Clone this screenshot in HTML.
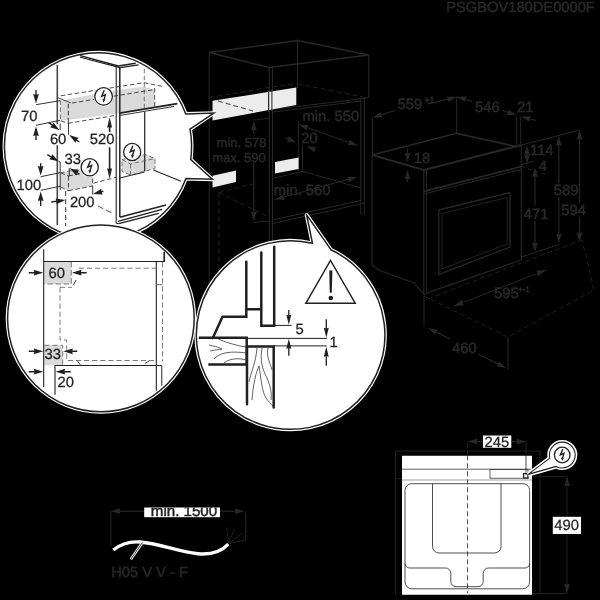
<!DOCTYPE html>
<html><head><meta charset="utf-8"><title>PSGBOV180DE0000F</title>
<style>
html,body{margin:0;padding:0;background:#000;}
svg{display:block;font-family:"Liberation Sans",sans-serif;text-rendering:geometricPrecision;}
svg{filter:grayscale(1);}
</style></head>
<body>
<svg width="600" height="600" viewBox="0 0 600 600">
<rect x="0" y="0" width="600" height="600" fill="#000"/>
<defs>
<clipPath id="k1"><path d="M185.78,113.92 L213.9,113.05 L190.01,129.22 A93.6,93.6 0 0 1 190.68,159.48 L212.3,179.3 L185.91,178.53 A93.6,93.6 0 1 1 185.78,113.92 Z"/></clipPath>
<clipPath id="k2"><path d="M7.6,318.45 A93.3,93.3 0 1 1 194.2,318.45 A93.3,93.3 0 1 1 7.6,318.45 Z"/></clipPath>
<clipPath id="k3"><path d="M312.49,243.28 L306.6,214.9 L330.93,249.76 A94.3,94.3 0 1 1 312.49,243.28 Z"/></clipPath>
</defs>
<g id="bg">
<text x="594.8" y="12.2" font-size="14.7" fill="#2b2728" text-anchor="end" stroke="#2b2728" stroke-width="0.5">PSGBOV180DE0000F</text>
<polygon points="209.2,52.5 297.5,40.5 368.8,55 269.2,67.5" fill="none" stroke="#2a2627" stroke-width="1.5"/>
<line x1="209.2" y1="52.5" x2="209.2" y2="300" stroke="#2a2627" stroke-width="1"/>
<line x1="269.2" y1="67.5" x2="269.2" y2="245" stroke="#2a2627" stroke-width="1.1"/>
<line x1="272.5" y1="67.2" x2="272.5" y2="245" stroke="#2a2627" stroke-width="1"/>
<line x1="297.5" y1="40.5" x2="297.5" y2="88" stroke="#2a2627" stroke-width="1"/>
<line x1="368.8" y1="55" x2="368.8" y2="97.5" stroke="#2a2627" stroke-width="1.1"/>
<line x1="272.5" y1="109.5" x2="361.3" y2="98.8" stroke="#2a2627" stroke-width="1"/>
<line x1="272.5" y1="112" x2="361.3" y2="101" stroke="#2a2627" stroke-width="1"/>
<line x1="368.8" y1="97.5" x2="361" y2="98.8" stroke="#2a2627" stroke-width="1"/>
<line x1="360.8" y1="98.8" x2="360.8" y2="215" stroke="#2a2627" stroke-width="1"/>
<line x1="364.3" y1="98.5" x2="364.3" y2="215" stroke="#2a2627" stroke-width="1"/>
<line x1="209.2" y1="97.5" x2="269" y2="87.5" stroke="#2a2627" stroke-width="0.9" stroke-dasharray="5 3"/>
<line x1="272.5" y1="87" x2="297.5" y2="83.5" stroke="#2a2627" stroke-width="0.9" stroke-dasharray="5 3"/>
<line x1="297.5" y1="83.8" x2="365" y2="97.5" stroke="#2a2627" stroke-width="0.9" stroke-dasharray="5 3"/>
<line x1="253.3" y1="120.2" x2="269.2" y2="118.2" stroke="#2a2627" stroke-width="0.9"/>
<line x1="298.3" y1="121" x2="298.3" y2="171" stroke="#2a2627" stroke-width="1"/>
<line x1="302.5" y1="145" x2="302.5" y2="171.3" stroke="#2a2627" stroke-width="1"/>
<line x1="272.5" y1="178.5" x2="302.5" y2="171.3" stroke="#2a2627" stroke-width="1"/>
<line x1="302.5" y1="171.3" x2="360.8" y2="188" stroke="#2a2627" stroke-width="1"/>
<line x1="272.5" y1="220" x2="360.8" y2="200.5" stroke="#2a2627" stroke-width="1.1"/>
<line x1="272.5" y1="223.5" x2="364.3" y2="203.2" stroke="#2a2627" stroke-width="1"/>
<line x1="253.8" y1="222.5" x2="269.2" y2="221" stroke="#2a2627" stroke-width="1"/>
<line x1="218.8" y1="192.5" x2="253.8" y2="183.8" stroke="#2a2627" stroke-width="0.9" stroke-dasharray="5 3"/>
<line x1="218.8" y1="192.5" x2="267.5" y2="216.3" stroke="#2a2627" stroke-width="0.9" stroke-dasharray="5 3"/>
<line x1="218.8" y1="192.5" x2="218.8" y2="300" stroke="#2a2627" stroke-width="0.9" stroke-dasharray="5 3"/>
<polygon points="212.5,100.8 296.3,87.5 296.3,105 212.5,120.5" fill="#ececec" stroke="none"/>
<polygon points="212.5,175.7 236,170.6 236,182 212.5,187.4" fill="#ececec" stroke="none"/>
<polygon points="275,162 298.6,157.4 298.6,169 275,173.6" fill="#ececec" stroke="none"/>
<line x1="268.6" y1="89" x2="268.6" y2="112" stroke="#2a2627" stroke-width="1.2"/>
<line x1="271.9" y1="89" x2="271.9" y2="112" stroke="#2a2627" stroke-width="1"/>
<line x1="218" y1="101" x2="253" y2="111" stroke="#2a2627" stroke-width="0.9" stroke-dasharray="5 3"/>
<text x="216.6" y="146.5" font-size="13" fill="#2b2728" text-anchor="start" stroke="#2b2728" stroke-width="0.5">min. 578</text>
<text x="212.3" y="161.5" font-size="13" fill="#2b2728" text-anchor="start" stroke="#2b2728" stroke-width="0.5">max. 590</text>
<line x1="253.8" y1="134" x2="253.8" y2="127.65" stroke="#2a2627" stroke-width="1.2"/>
<polygon points="253.8,121 256.7,130.5 253.8,129.84 250.9,130.5" fill="#2a2627" stroke="none"/>
<line x1="253.8" y1="163" x2="253.8" y2="214.65" stroke="#2a2627" stroke-width="1.2"/>
<polygon points="253.8,221.3 250.9,211.8 253.8,212.47 256.7,211.8" fill="#2a2627" stroke="none"/>
<text x="302.5" y="121.3" font-size="14.8" fill="#2b2728" text-anchor="start" stroke="#2b2728" stroke-width="0.5">min. 550</text>
<line x1="298.8" y1="124.5" x2="357.5" y2="145.5" stroke="#2a2627" stroke-width="1"/>
<polygon points="298.8,124.5 308.72,124.97 307.12,127.48 306.77,130.43" fill="#2a2627" stroke="none"/>
<polygon points="357.5,145.5 347.58,145.03 349.18,142.52 349.53,139.57" fill="#2a2627" stroke="none"/>
<text x="301.3" y="142.5" font-size="14.8" fill="#2b2728" text-anchor="start" stroke="#2b2728" stroke-width="0.5">20</text>
<line x1="285" y1="137.5" x2="290.22" y2="139.81" stroke="#2a2627" stroke-width="1.2"/>
<polygon points="296.3,142.5 286.44,141.31 288.22,138.93 288.79,136" fill="#2a2627" stroke="none"/>
<line x1="316.3" y1="150" x2="312.54" y2="148.61" stroke="#2a2627" stroke-width="1.2"/>
<polygon points="306.3,146.3 316.22,146.88 314.59,149.37 314.2,152.32" fill="#2a2627" stroke="none"/>
<text x="273.8" y="195" font-size="14.8" fill="#2b2728" text-anchor="start" stroke="#2b2728" stroke-width="0.5">min. 560</text>
<line x1="275" y1="199.5" x2="350" y2="178.8" stroke="#2a2627" stroke-width="1"/>
<polygon points="275,199.5 283.39,194.18 283.52,197.15 284.93,199.77" fill="#2a2627" stroke="none"/>
<polygon points="357,177 348.61,182.31 348.48,179.34 347.07,176.72" fill="#2a2627" stroke="none"/>
<polyline points="372,155 456.7,133.3 516.7,146.7" fill="none" stroke="#2a2627" stroke-width="1.7"/>
<polyline points="372,155 423.8,170 521.3,145" fill="none" stroke="#2a2627" stroke-width="2"/>
<line x1="372" y1="155" x2="372" y2="265" stroke="#2a2627" stroke-width="1.1"/>
<line x1="423.8" y1="170" x2="423.8" y2="294" stroke="#2a2627" stroke-width="1.2"/>
<line x1="426.5" y1="170" x2="426.5" y2="292" stroke="#2a2627" stroke-width="0.9"/>
<line x1="521.3" y1="145" x2="521.3" y2="260" stroke="#2a2627" stroke-width="1.1"/>
<line x1="423.8" y1="191.3" x2="521.3" y2="166.5" stroke="#2a2627" stroke-width="1.8"/>
<line x1="423.8" y1="194" x2="521.3" y2="169.5" stroke="#2a2627" stroke-width="1"/>
<polygon points="438.8,210 510,192.5 510,247 438.8,274.5" fill="none" stroke="#2a2627" stroke-width="1.3"/>
<polygon points="442,213.5 507,197.5 507,244 442,269" fill="none" stroke="#2a2627" stroke-width="0.9"/>
<polyline points="372,265 378.8,270 414,283 424,294 521.3,260" fill="none" stroke="#2a2627" stroke-width="1.1"/>
<line x1="424" y1="294" x2="424" y2="326" stroke="#2a2627" stroke-width="1"/>
<line x1="508" y1="337" x2="508" y2="370" stroke="#2a2627" stroke-width="1"/>
<polyline points="424,296 508,337 594,290 582,240" fill="none" stroke="#2a2627" stroke-width="0.8" stroke-dasharray="5 3"/>
<polyline points="428,299 521,263 582,240" fill="none" stroke="#2a2627" stroke-width="0.8" stroke-dasharray="5 3"/>
<line x1="372.5" y1="117.5" x2="372.5" y2="155" stroke="#2a2627" stroke-width="1"/>
<line x1="456.7" y1="96.7" x2="456.7" y2="133.3" stroke="#2a2627" stroke-width="1"/>
<line x1="516.7" y1="116.7" x2="516.7" y2="146" stroke="#2a2627" stroke-width="1"/>
<line x1="520.7" y1="116.7" x2="520.7" y2="145" stroke="#2a2627" stroke-width="1"/>
<text x="397.5" y="108.8" font-size="14.8" fill="#2b2728" text-anchor="start" stroke="#2b2728" stroke-width="0.5">559</text>
<text x="424.2" y="103" font-size="9" fill="#2b2728" text-anchor="start" stroke="#2b2728" stroke-width="0.5">+1</text>
<line x1="395" y1="110.5" x2="378.85" y2="115.52" stroke="#2a2627" stroke-width="1.2"/>
<polygon points="372.5,117.5 380.71,111.91 380.94,114.88 382.43,117.45" fill="#2a2627" stroke="none"/>
<line x1="428" y1="104" x2="450.24" y2="98.58" stroke="#2a2627" stroke-width="1.2"/>
<polygon points="456.7,97 448.16,102.07 448.12,99.09 446.78,96.43" fill="#2a2627" stroke="none"/>
<text x="475" y="111.5" font-size="14.8" fill="#2b2728" text-anchor="start" stroke="#2b2728" stroke-width="0.5">546</text>
<line x1="461.5" y1="98" x2="463.37" y2="98.45" stroke="#2a2627" stroke-width="1.2"/>
<polygon points="456.9,96.9 466.81,96.29 465.49,98.95 465.47,101.93" fill="#2a2627" stroke="none"/>
<line x1="502" y1="110.5" x2="510.15" y2="113.03" stroke="#2a2627" stroke-width="1.2"/>
<polygon points="516.5,115 506.57,114.95 508.06,112.38 508.29,109.41" fill="#2a2627" stroke="none"/>
<line x1="456.7" y1="96.7" x2="472" y2="101.5" stroke="#2a2627" stroke-width="1"/>
<text x="517" y="111.5" font-size="14.8" fill="#2b2728" text-anchor="start" stroke="#2b2728" stroke-width="0.5">21</text>
<line x1="536" y1="120.5" x2="527.43" y2="118.21" stroke="#2a2627" stroke-width="1.2"/>
<polygon points="521,116.5 530.93,116.15 529.54,118.78 529.43,121.75" fill="#2a2627" stroke="none"/>
<text x="413.8" y="162.5" font-size="14.8" fill="#2b2728" text-anchor="start" stroke="#2b2728" stroke-width="0.5">18</text>
<line x1="407.5" y1="148.8" x2="407.5" y2="155.85" stroke="#2a2627" stroke-width="1.2"/>
<polygon points="407.5,162.5 404.6,153 407.5,153.66 410.4,153" fill="#2a2627" stroke="none"/>
<line x1="407.5" y1="182" x2="407.5" y2="176.65" stroke="#2a2627" stroke-width="1.2"/>
<polygon points="407.5,170 410.4,179.5 407.5,178.84 404.6,179.5" fill="#2a2627" stroke="none"/>
<text x="530" y="155" font-size="14.8" fill="#2b2728" text-anchor="start" stroke="#2b2728" stroke-width="0.5">114</text>
<line x1="527" y1="148" x2="527" y2="160" stroke="#2a2627" stroke-width="1"/>
<polygon points="527,145.2 529.9,154.7 527,154.03 524.1,154.7" fill="#2a2627" stroke="none"/>
<polygon points="527,163.8 524.1,154.3 527,154.97 529.9,154.3" fill="#2a2627" stroke="none"/>
<text x="538.8" y="171.3" font-size="14.8" fill="#2b2728" text-anchor="start" stroke="#2b2728" stroke-width="0.5">4</text>
<text x="553.8" y="195" font-size="14.8" fill="#2b2728" text-anchor="start" stroke="#2b2728" stroke-width="0.5">589</text>
<text x="561.3" y="215" font-size="14.8" fill="#2b2728" text-anchor="start" stroke="#2b2728" stroke-width="0.5">594</text>
<text x="523.8" y="218.8" font-size="14.8" fill="#2b2728" text-anchor="start" stroke="#2b2728" stroke-width="0.5">471</text>
<line x1="535" y1="205" x2="535" y2="174.15" stroke="#2a2627" stroke-width="1.2"/>
<polygon points="535,167.5 537.9,177 535,176.34 532.1,177" fill="#2a2627" stroke="none"/>
<line x1="535" y1="221" x2="535" y2="245.35" stroke="#2a2627" stroke-width="1.2"/>
<polygon points="535,252 532.1,242.5 535,243.16 537.9,242.5" fill="#2a2627" stroke="none"/>
<line x1="558.8" y1="183" x2="558.8" y2="142.95" stroke="#2a2627" stroke-width="1.2"/>
<polygon points="558.8,136.3 561.7,145.8 558.8,145.14 555.9,145.8" fill="#2a2627" stroke="none"/>
<line x1="558.8" y1="197" x2="558.8" y2="236.35" stroke="#2a2627" stroke-width="1.2"/>
<polygon points="558.8,243 555.9,233.5 558.8,234.16 561.7,233.5" fill="#2a2627" stroke="none"/>
<line x1="579.5" y1="203" x2="579.5" y2="136.65" stroke="#2a2627" stroke-width="1.2"/>
<polygon points="579.5,130 582.4,139.5 579.5,138.84 576.6,139.5" fill="#2a2627" stroke="none"/>
<line x1="579.5" y1="217" x2="579.5" y2="235.35" stroke="#2a2627" stroke-width="1.2"/>
<polygon points="579.5,242 576.6,232.5 579.5,233.16 582.4,232.5" fill="#2a2627" stroke="none"/>
<line x1="521.3" y1="145" x2="580" y2="130" stroke="#2a2627" stroke-width="1"/>
<line x1="521.3" y1="164.5" x2="534" y2="161.3" stroke="#2a2627" stroke-width="1"/>
<line x1="521.3" y1="166.5" x2="545" y2="174.5" stroke="#2a2627" stroke-width="0.9" stroke-dasharray="4 3"/>
<line x1="521.3" y1="257" x2="559" y2="244.5" stroke="#2a2627" stroke-width="1"/>
<text x="494" y="298" font-size="14.8" fill="#2b2728" text-anchor="start" stroke="#2b2728" stroke-width="0.5">595</text>
<text x="518" y="291.5" font-size="8" fill="#2b2728" text-anchor="start" stroke="#2b2728" stroke-width="0.5">+-1</text>
<line x1="454" y1="306" x2="546" y2="270" stroke="#2a2627" stroke-width="1"/>
<polygon points="454,306 461.79,299.84 462.23,302.78 463.9,305.24" fill="#2a2627" stroke="none"/>
<polygon points="546,270 538.21,276.16 537.77,273.22 536.1,270.76" fill="#2a2627" stroke="none"/>
<text x="452" y="353" font-size="14.8" fill="#2b2728" text-anchor="start" stroke="#2b2728" stroke-width="0.5">460</text>
<line x1="450" y1="339" x2="433.95" y2="330.97" stroke="#2a2627" stroke-width="1.2"/>
<polygon points="428,328 437.79,329.65 435.9,331.95 435.2,334.84" fill="#2a2627" stroke="none"/>
<line x1="478" y1="354" x2="500.05" y2="365.03" stroke="#2a2627" stroke-width="1.2"/>
<polygon points="506,368 496.21,366.35 498.1,364.05 498.8,361.16" fill="#2a2627" stroke="none"/>
<line x1="110.8" y1="511" x2="110.8" y2="546" stroke="#2a2627" stroke-width="1"/>
<line x1="144" y1="511.2" x2="117.45" y2="511.2" stroke="#2a2627" stroke-width="1.2"/>
<polygon points="110.8,511.2 120.3,508.3 119.63,511.2 120.3,514.1" fill="#2a2627" stroke="none"/>
<rect x="144.2" y="507.5" width="75.8" height="9.7" rx="0" fill="#fff" stroke="none"/>
<clipPath id="kl"><rect x="144.2" y="507.5" width="75.8" height="9.7"/></clipPath>
<text x="184" y="515.9" font-size="15.1" fill="#231f21" text-anchor="middle" clip-path="url(#kl)" stroke="#231f21" stroke-width="0.5">min. 1500</text>
<line x1="220" y1="511.2" x2="237.75" y2="511.2" stroke="#2a2627" stroke-width="1.2"/>
<polygon points="244.4,511.2 234.9,514.1 235.56,511.2 234.9,508.3" fill="#2a2627" stroke="none"/>
<line x1="245.8" y1="511" x2="245.8" y2="540" stroke="#2a2627" stroke-width="1"/>
<line x1="228.5" y1="543.5" x2="226.7" y2="527.5" stroke="#2a2627" stroke-width="0.8"/>
<line x1="228.5" y1="543.5" x2="234.2" y2="529.2" stroke="#2a2627" stroke-width="0.8"/>
<line x1="228.5" y1="543.5" x2="241.7" y2="533.7" stroke="#2a2627" stroke-width="0.8"/>
<line x1="228.5" y1="543.5" x2="245.8" y2="540" stroke="#2a2627" stroke-width="0.8"/>
<path d="M113.3,550 C122,543 131,541.3 140,542 C160,543.5 176,551.5 198,553.8 C212,555 222,551 228.3,544.2" fill="none" stroke="#fff" stroke-width="3.4" />
<line x1="142.5" y1="542.5" x2="130.8" y2="559.2" stroke="#fff" stroke-width="2.6"/>
<line x1="142.5" y1="542.5" x2="130.8" y2="559.2" stroke="#231f21" stroke-width="0.9"/>
<text x="111.2" y="576.7" font-size="14.7" fill="#2b2728" text-anchor="start" stroke="#2b2728" stroke-width="0.5">H05 V V - F</text>
</g>
<g id="c1">
<path d="M185.78,113.92 L213.9,113.05 L190.01,129.22 A93.6,93.6 0 0 1 190.68,159.48 L212.3,179.3 L185.91,178.53 A93.6,93.6 0 1 1 185.78,113.92 Z" fill="#fff" stroke="#fff" stroke-width="3.8" stroke-linejoin="round"/>
<g clip-path="url(#k1)">
<polygon points="60.8,100.4 116.5,90 144,86.5 154.5,90 154.5,107 120,113.2 116,114 60.7,120.7" fill="#dadada" stroke="none"/>
<polygon points="60.2,172.9 84.2,168 92.7,171.5 92.7,186 68.5,190.7 60.2,187" fill="#dadada" stroke="none"/>
<polygon points="122,159.5 145,154.5 155,158.5 155,168.5 130.5,175 122,171.5" fill="#dadada" stroke="none"/>
<line x1="80.3" y1="55.6" x2="118.2" y2="66" stroke="#231f20" stroke-width="1.3" stroke-linecap="round"/>
<line x1="80.4" y1="57.3" x2="119.9" y2="67.6" stroke="#231f20" stroke-width="1.1" stroke-linecap="round"/>
<line x1="118.2" y1="66" x2="135.7" y2="63.3" stroke="#231f20" stroke-width="1.5"/>
<line x1="119.9" y1="67.6" x2="138.6" y2="64.9" stroke="#231f20" stroke-width="1.3"/>
<line x1="116.3" y1="67" x2="116.3" y2="223.3" stroke="#5a5858" stroke-width="1.5"/>
<line x1="119.8" y1="67.6" x2="119.8" y2="217" stroke="#231f20" stroke-width="1.5"/>
<line x1="57.3" y1="64.7" x2="57.3" y2="124" stroke="#4c4a4a" stroke-width="1.6"/>
<line x1="57.3" y1="145.3" x2="57.3" y2="225.3" stroke="#4c4a4a" stroke-width="1.6"/>
<line x1="119.7" y1="113.2" x2="177.3" y2="103.7" stroke="#231f20" stroke-width="1.8"/>
<line x1="119.7" y1="115.5" x2="174" y2="106.4" stroke="#231f20" stroke-width="0.9"/>
<line x1="119.7" y1="178" x2="144.7" y2="172" stroke="#231f20" stroke-width="1"/>
<line x1="153.3" y1="170" x2="181" y2="181.2" stroke="#231f20" stroke-width="1.1"/>
<line x1="144.7" y1="112" x2="144.7" y2="171.3" stroke="#231f20" stroke-width="1.2"/>
<line x1="119.7" y1="217.3" x2="166" y2="205" stroke="#231f20" stroke-width="1.5"/>
<line x1="118" y1="221.3" x2="162" y2="209.3" stroke="#231f20" stroke-width="1.3"/>
<line x1="116" y1="223.2" x2="118.7" y2="223.6" stroke="#231f20" stroke-width="1"/>
<line x1="118.7" y1="223.6" x2="158.7" y2="213.3" stroke="#231f20" stroke-width="1.3"/>
<line x1="60.8" y1="95.8" x2="144" y2="82.7" stroke="#231f20" stroke-width="0.8" stroke-dasharray="4.5 2.5"/>
<line x1="144" y1="82.7" x2="164" y2="86.7" stroke="#231f20" stroke-width="0.8" stroke-dasharray="4.5 2.5"/>
<line x1="144.3" y1="68.7" x2="144.3" y2="110" stroke="#5a5758" stroke-width="0.8" stroke-dasharray="4.5 2.5"/>
<line x1="60.4" y1="100.4" x2="60.4" y2="121" stroke="#5a5758" stroke-width="0.9" stroke-dasharray="4.5 2.5"/>
<line x1="60.2" y1="123.5" x2="60.2" y2="130" stroke="#231f20" stroke-width="0.9"/>
<line x1="68.3" y1="103.8" x2="68.3" y2="122.5" stroke="#231f20" stroke-width="0.9" stroke-dasharray="4.5 2.5"/>
<line x1="68.5" y1="122.5" x2="68.5" y2="134.7" stroke="#231f20" stroke-width="0.9"/>
<line x1="57.3" y1="97.5" x2="70.8" y2="102.9" stroke="#231f20" stroke-width="0.8"/>
<line x1="72" y1="103" x2="154.7" y2="89.5" stroke="#231f20" stroke-width="0.8" stroke-dasharray="4.5 2.5"/>
<line x1="154.7" y1="88" x2="154.7" y2="107" stroke="#231f20" stroke-width="0.8" stroke-dasharray="4.5 2.5"/>
<line x1="68.2" y1="123.3" x2="116" y2="115.3" stroke="#231f20" stroke-width="0.8" stroke-dasharray="4.5 2.5"/>
<line x1="60.7" y1="120.8" x2="68.2" y2="123.3" stroke="#231f20" stroke-width="0.8" stroke-dasharray="4.5 2.5"/>
<line x1="60.7" y1="172.7" x2="68.5" y2="176" stroke="#231f20" stroke-width="0.8" stroke-dasharray="4.5 2.5"/>
<line x1="68.5" y1="176" x2="92.7" y2="171.5" stroke="#231f20" stroke-width="0.8" stroke-dasharray="4.5 2.5"/>
<line x1="68.5" y1="176" x2="68.5" y2="190.7" stroke="#231f20" stroke-width="0.8" stroke-dasharray="4.5 2.5"/>
<line x1="60.7" y1="187" x2="68.5" y2="190.7" stroke="#231f20" stroke-width="0.8" stroke-dasharray="4.5 2.5"/>
<line x1="68.5" y1="190.7" x2="92.7" y2="186" stroke="#231f20" stroke-width="0.8" stroke-dasharray="4.5 2.5"/>
<line x1="92.7" y1="171.5" x2="92.7" y2="186" stroke="#231f20" stroke-width="0.8" stroke-dasharray="4.5 2.5"/>
<polyline points="60.2,172.9 84.2,168 92.7,171.5" fill="none" stroke="#5a5758" stroke-width="0.8" stroke-dasharray="4.5 2.5"/>
<line x1="93.5" y1="183.2" x2="116" y2="177.3" stroke="#231f20" stroke-width="0.8" stroke-dasharray="4.5 2.5"/>
<line x1="65.7" y1="191" x2="65.7" y2="226" stroke="#231f20" stroke-width="0.9" stroke-dasharray="5 3"/>
<line x1="98" y1="206" x2="112" y2="213" stroke="#231f20" stroke-width="0.8" stroke-dasharray="6 3"/>
<polygon points="122,159.5 145,154.5 155,158.5 155,168.5 130.5,175 122,171.5" fill="none" stroke="#5a5758" stroke-width="0.8" stroke-dasharray="4.5 2.5"/>
<polyline points="122,159.5 130.5,164 155,158.5" fill="none" stroke="#5a5758" stroke-width="0.8" stroke-dasharray="4.5 2.5"/>
<line x1="130.5" y1="164" x2="130.5" y2="175" stroke="#5a5758" stroke-width="0.8" stroke-dasharray="4.5 2.5"/>
<line x1="36" y1="104.7" x2="60" y2="100.7" stroke="#231f20" stroke-width="0.9"/>
<line x1="36" y1="125.3" x2="60" y2="120.3" stroke="#231f20" stroke-width="0.9"/>
<line x1="36" y1="90" x2="36" y2="96.85" stroke="#231f20" stroke-width="1.4"/>
<polygon points="36,103.5 33.1,94 36,94.66 38.9,94" fill="#231f20" stroke="none"/>
<line x1="36" y1="140" x2="36" y2="133.15" stroke="#231f20" stroke-width="1.4"/>
<polygon points="36,126.5 38.9,136 36,135.34 33.1,136" fill="#231f20" stroke="none"/>
<text x="21" y="120.9" font-size="14.8" fill="#231f20" text-anchor="start" stroke="#231f20" stroke-width="0.25">70</text>
<line x1="48.7" y1="122.7" x2="54.12" y2="126.43" stroke="#231f20" stroke-width="1.4"/>
<polygon points="59.6,130.2 50.13,127.2 52.32,125.19 53.42,122.43" fill="#231f20" stroke="none"/>
<line x1="79.3" y1="142" x2="74.75" y2="138.81" stroke="#231f20" stroke-width="1.4"/>
<polygon points="69.3,135 78.75,138.07 76.54,140.07 75.42,142.82" fill="#231f20" stroke="none"/>
<text x="49.9" y="143.5" font-size="14.8" fill="#231f20" text-anchor="start" stroke="#231f20" stroke-width="0.25">60</text>
<text x="89.8" y="144.1" font-size="14.8" fill="#231f20" text-anchor="start" stroke="#231f20" stroke-width="0.25">520</text>
<line x1="109.6" y1="132" x2="109.6" y2="124.65" stroke="#231f20" stroke-width="1.6"/>
<polygon points="109.6,117.3 112.1,127.8 109.6,127.06 107.1,127.8" fill="#231f20" stroke="none"/>
<line x1="109.6" y1="147.3" x2="109.6" y2="171.35" stroke="#231f20" stroke-width="1.6"/>
<polygon points="109.6,178.7 107.1,168.2 109.6,168.94 112.1,168.2" fill="#231f20" stroke="none"/>
<text x="64.5" y="164" font-size="14.8" fill="#231f20" text-anchor="start" stroke="#231f20" stroke-width="0.25">33</text>
<line x1="47.3" y1="154.7" x2="53.16" y2="158.14" stroke="#231f20" stroke-width="1.4"/>
<polygon points="58.9,161.5 49.24,159.2 51.28,157.03 52.17,154.19" fill="#231f20" stroke="none"/>
<line x1="58.7" y1="161.3" x2="60.2" y2="162.2" stroke="#231f20" stroke-width="0.9"/>
<line x1="60.2" y1="162" x2="60.2" y2="190" stroke="#231f20" stroke-width="0.9"/>
<line x1="79.3" y1="174" x2="75.22" y2="171.59" stroke="#231f20" stroke-width="1.4"/>
<polygon points="69.5,168.2 79.15,170.54 77.1,172.7 76.2,175.53" fill="#231f20" stroke="none"/>
<line x1="69.3" y1="168" x2="69.3" y2="176" stroke="#231f20" stroke-width="0.9"/>
<text x="16.6" y="190" font-size="14.8" fill="#231f20" text-anchor="start" stroke="#231f20" stroke-width="0.25">100</text>
<line x1="40.7" y1="176.7" x2="60" y2="172.7" stroke="#231f20" stroke-width="0.9"/>
<line x1="40.7" y1="190.3" x2="60" y2="186.3" stroke="#231f20" stroke-width="0.9"/>
<line x1="40.7" y1="163.3" x2="40.7" y2="168.95" stroke="#231f20" stroke-width="1.4"/>
<polygon points="40.7,175.6 37.8,166.1 40.7,166.76 43.6,166.1" fill="#231f20" stroke="none"/>
<line x1="40.7" y1="206" x2="40.7" y2="198.05" stroke="#231f20" stroke-width="1.4"/>
<polygon points="40.7,191.4 43.6,200.9 40.7,200.24 37.8,200.9" fill="#231f20" stroke="none"/>
<text x="69.9" y="207.3" font-size="14.8" fill="#231f20" text-anchor="start" stroke="#231f20" stroke-width="0.25">200</text>
<line x1="51.3" y1="202" x2="58.82" y2="200.93" stroke="#231f20" stroke-width="1.4"/>
<polygon points="65.4,200 56.4,204.21 56.65,201.24 55.59,198.46" fill="#231f20" stroke="none"/>
<line x1="103.3" y1="191.3" x2="99.34" y2="192.33" stroke="#231f20" stroke-width="1.4"/>
<polygon points="92.9,194 101.37,188.81 101.45,191.78 102.82,194.42" fill="#231f20" stroke="none"/>
<line x1="92.7" y1="186" x2="92.7" y2="194.5" stroke="#231f20" stroke-width="0.9"/>
<circle cx="103.6" cy="96.4" r="10" fill="#fff" stroke="none"/>
<circle cx="103.6" cy="96.4" r="8.8" fill="#fff" stroke="#231f20" stroke-width="1.3"/>
<polyline points="104.3,90.2 101.6,96.3 105.5,94.6 103.8,100.4" fill="none" stroke="#231f20" stroke-width="1.4" stroke-linejoin="miter"/>
<polygon points="103.5,102.8 102.3,99 105.2,99.8" fill="#231f20" stroke="none"/>
<circle cx="89.7" cy="167.3" r="9.8" fill="#fff" stroke="none"/>
<circle cx="89.7" cy="167.3" r="8.6" fill="#fff" stroke="#231f20" stroke-width="1.3"/>
<polyline points="90.4,161.1 87.7,167.2 91.6,165.5 89.9,171.3" fill="none" stroke="#231f20" stroke-width="1.4" stroke-linejoin="miter"/>
<polygon points="89.6,173.7 88.4,169.9 91.3,170.7" fill="#231f20" stroke="none"/>
<circle cx="132.2" cy="152" r="9.8" fill="#fff" stroke="none"/>
<circle cx="132.2" cy="152" r="8.6" fill="#fff" stroke="#231f20" stroke-width="1.3"/>
<polyline points="132.9,145.8 130.2,151.9 134.1,150.2 132.4,156" fill="none" stroke="#231f20" stroke-width="1.4" stroke-linejoin="miter"/>
<polygon points="132.1,158.4 130.9,154.6 133.8,155.4" fill="#231f20" stroke="none"/>
</g>
<path d="M185.78,113.92 L213.9,113.05 L190.01,129.22 A93.6,93.6 0 0 1 190.68,159.48 L212.3,179.3 L185.91,178.53 A93.6,93.6 0 1 1 185.78,113.92 Z" fill="none" stroke="#231f20" stroke-width="1.5" stroke-linejoin="miter" stroke-miterlimit="12"/>
</g>
<g id="c2">
<path d="M7.6,318.45 A93.3,93.3 0 1 1 194.2,318.45 A93.3,93.3 0 1 1 7.6,318.45 Z" fill="#fff" stroke="#fff" stroke-width="3.8" />
</g>
<g id="c3">
<path d="M312.49,243.28 L306.6,214.9 L330.93,249.76 A94.3,94.3 0 1 1 312.49,243.28 Z" fill="#fff" stroke="#fff" stroke-width="3.8" stroke-linejoin="round"/>
</g>
<g clip-path="url(#k2)">
<rect x="44.3" y="261.8" width="27" height="22.2" rx="0" fill="#dadada" stroke="none"/>
<rect x="44.3" y="345.3" width="18.4" height="20" rx="0" fill="#dadada" stroke="none"/>
<line x1="43.7" y1="249.3" x2="43.7" y2="387.3" stroke="#231f20" stroke-width="1.1"/>
<polyline points="43.7,261.5 164.2,261.5" fill="none" stroke="#231f20" stroke-width="1.1"/>
<line x1="164.2" y1="251.7" x2="164.2" y2="262" stroke="#231f20" stroke-width="1.6"/>
<line x1="156.3" y1="261.5" x2="156.3" y2="390.8" stroke="#231f20" stroke-width="1.1"/>
<polyline points="55,394.7 55,365.5 161.7,365.5" fill="none" stroke="#231f20" stroke-width="1.1"/>
<line x1="161.7" y1="365.5" x2="161.7" y2="385.8" stroke="#5a5758" stroke-width="1.3"/>
<line x1="156.3" y1="284.7" x2="162.5" y2="284.7" stroke="#5a5758" stroke-width="0.9"/>
<polyline points="71.3,262 71.3,284 44.3,284" fill="none" stroke="#5c5a5a" stroke-width="0.8" stroke-dasharray="5.3 2.8"/>
<line x1="78.7" y1="268.2" x2="156" y2="268.2" stroke="#5c5a5a" stroke-width="0.8" stroke-dasharray="5.3 2.8"/>
<line x1="76" y1="280" x2="73.3" y2="285.3" stroke="#231f20" stroke-width="0.9"/>
<line x1="60" y1="287.3" x2="72" y2="287.3" stroke="#5c5a5a" stroke-width="0.8" stroke-dasharray="5.3 2.8"/>
<polyline points="60,287.3 60,340 66.7,340 66.7,360.5 156,360.5" fill="none" stroke="#5c5a5a" stroke-width="0.8" stroke-dasharray="5.3 2.8"/>
<line x1="162.5" y1="262" x2="162.5" y2="361.5" stroke="#5c5a5a" stroke-width="0.8" stroke-dasharray="5.3 2.8"/>
<polyline points="44.3,345.3 62.7,345.3 62.7,365.3" fill="none" stroke="#5c5a5a" stroke-width="0.8" stroke-dasharray="5.3 2.8"/>
<line x1="77.3" y1="360.7" x2="80.7" y2="365.3" stroke="#231f20" stroke-width="0.8"/>
<line x1="149" y1="361" x2="145" y2="363.5" stroke="#231f20" stroke-width="0.8"/>
<line x1="28.7" y1="272.7" x2="36.65" y2="272.7" stroke="#231f20" stroke-width="1.4"/>
<polygon points="43.3,272.7 33.8,275.6 34.46,272.7 33.8,269.8" fill="#231f20" stroke="none"/>
<line x1="86.7" y1="272.7" x2="78.65" y2="272.7" stroke="#231f20" stroke-width="1.4"/>
<polygon points="72,272.7 81.5,269.8 80.84,272.7 81.5,275.6" fill="#231f20" stroke="none"/>
<text x="48.5" y="277.8" font-size="14.8" fill="#231f20" text-anchor="start" stroke="#231f20" stroke-width="0.25">60</text>
<line x1="28.7" y1="351.3" x2="36.65" y2="351.3" stroke="#231f20" stroke-width="1.4"/>
<polygon points="43.3,351.3 33.8,354.2 34.46,351.3 33.8,348.4" fill="#231f20" stroke="none"/>
<line x1="77.3" y1="351.3" x2="69.95" y2="351.3" stroke="#231f20" stroke-width="1.4"/>
<polygon points="63.3,351.3 72.8,348.4 72.13,351.3 72.8,354.2" fill="#231f20" stroke="none"/>
<text x="44.6" y="358.8" font-size="14.8" fill="#231f20" text-anchor="start" stroke="#231f20" stroke-width="0.25">33</text>
<line x1="28.7" y1="371.7" x2="36.65" y2="371.7" stroke="#231f20" stroke-width="1.4"/>
<polygon points="43.3,371.7 33.8,374.6 34.46,371.7 33.8,368.8" fill="#231f20" stroke="none"/>
<line x1="70.7" y1="371.7" x2="62.25" y2="371.7" stroke="#231f20" stroke-width="1.4"/>
<polygon points="55.6,371.7 65.1,368.8 64.44,371.7 65.1,374.6" fill="#231f20" stroke="none"/>
<text x="57.6" y="386.8" font-size="14.8" fill="#231f20" text-anchor="start" stroke="#231f20" stroke-width="0.25">20</text>
</g>
<g clip-path="url(#k3)">
<polyline points="246.3,261.7 246.3,316.7 222.5,316.7 212.8,338" fill="none" stroke="#231f20" stroke-width="2.5" stroke-linejoin="miter" stroke-linecap="round"/>
<line x1="246.3" y1="309.2" x2="261.3" y2="309.2" stroke="#231f20" stroke-width="2.5"/>
<polyline points="261.3,252.5 261.3,325.8 274.2,325.8 274.2,246.7" fill="none" stroke="#231f20" stroke-width="2.5" stroke-linejoin="miter" stroke-linecap="round"/>
<polyline points="198.8,337.8 246.7,337.8 246.7,364.5 208.3,364.5" fill="none" stroke="#231f20" stroke-width="2.5" stroke-linejoin="miter"/>
<polyline points="247,404.2 247,346.4 273.7,346.4 273.7,407.5" fill="none" stroke="#231f20" stroke-width="2.5" stroke-linejoin="miter" stroke-linecap="round"/>
<line x1="274.2" y1="325.4" x2="291.7" y2="325.4" stroke="#231f20" stroke-width="1"/>
<line x1="246.7" y1="338.4" x2="326.8" y2="338.4" stroke="#231f20" stroke-width="1"/>
<line x1="273.7" y1="345.9" x2="326.8" y2="345.9" stroke="#231f20" stroke-width="1"/>
<line x1="288.8" y1="310" x2="288.8" y2="317.8" stroke="#231f20" stroke-width="1.3"/>
<polygon points="288.8,324.8 286.3,314.8 288.8,315.5 291.3,314.8" fill="#231f20" stroke="none"/>
<line x1="288.8" y1="355.8" x2="288.8" y2="345.7" stroke="#231f20" stroke-width="1.3"/>
<polygon points="288.8,338.7 291.3,348.7 288.8,348 286.3,348.7" fill="#231f20" stroke="none"/>
<line x1="326.3" y1="319.2" x2="326.3" y2="330.7" stroke="#231f20" stroke-width="1.3"/>
<polygon points="326.3,337.7 323.8,327.7 326.3,328.4 328.8,327.7" fill="#231f20" stroke="none"/>
<line x1="326.3" y1="365.8" x2="326.3" y2="353.7" stroke="#231f20" stroke-width="1.3"/>
<polygon points="326.3,346.7 328.8,356.7 326.3,356 323.8,356.7" fill="#231f20" stroke="none"/>
<text x="295.5" y="334.3" font-size="14.8" fill="#231f20" text-anchor="start" stroke="#231f20" stroke-width="0.25">5</text>
<text x="329.6" y="347.2" font-size="14.8" fill="#231f20" text-anchor="start" stroke="#231f20" stroke-width="0.25">1</text>
<polygon points="330.5,260.3 305.8,303.3 355.3,303.3" fill="none" stroke="#231f20" stroke-width="1.4" stroke-linejoin="miter"/>
<polygon points="329.2,270.6 332.4,270.6 331.8,292.7 329.8,292.7" fill="#231f20" stroke="none"/>
<circle cx="330.8" cy="298" r="2.3" fill="#231f20" stroke="none"/>
<path d="M218,339 C228,343 238,346 246,347" fill="none" stroke="#231f20" stroke-width="0.7" />
<path d="M209,345 C214,346 218,347 222,349 C216,350 212,350.5 210,351" fill="none" stroke="#231f20" stroke-width="0.7" />
<path d="M214,359 C220,352 232,351 246,353" fill="none" stroke="#231f20" stroke-width="0.7" />
<path d="M224,363 C230,358 240,358 246,360" fill="none" stroke="#231f20" stroke-width="0.7" />
<path d="M257,348 C256,362 251,372 249,382" fill="none" stroke="#231f20" stroke-width="0.7" />
<path d="M262,348 C260,360 262,368 266,376 C270,384 272,392 271,400" fill="none" stroke="#231f20" stroke-width="0.7" />
<path d="M268,348 C266,356 270,362 272,370" fill="none" stroke="#231f20" stroke-width="0.7" />
<path d="M252,400 C253,385 256,372 259,366 C261,378 262,392 266,398 C268,401 271,404 273,406" fill="none" stroke="#231f20" stroke-width="0.7" />
</g>
<path d="M7.6,318.45 A93.3,93.3 0 1 1 194.2,318.45 A93.3,93.3 0 1 1 7.6,318.45 Z" fill="none" stroke="#231f20" stroke-width="1.5" />
<path d="M312.49,243.28 L306.6,214.9 L330.93,249.76 A94.3,94.3 0 1 1 312.49,243.28 Z" fill="none" stroke="#231f20" stroke-width="1.5" stroke-linejoin="miter" stroke-miterlimit="12"/>
<g id="br">
<polyline points="395.5,594 395.5,451 540,451 540,593.5 532,593.5" fill="none" stroke="#2a2627" stroke-width="0.9"/>
<line x1="395" y1="478.3" x2="402" y2="478.3" stroke="#2a2627" stroke-width="0.8"/>
<line x1="532.5" y1="476.6" x2="567" y2="476.6" stroke="#2a2627" stroke-width="0.8"/>
<line x1="532.5" y1="593.5" x2="567" y2="593.5" stroke="#2a2627" stroke-width="0.8"/>
<rect x="402" y="455.75" width="130" height="139" rx="0" fill="#fff" stroke="none"/>
<line x1="402" y1="469.2" x2="532" y2="469.2" stroke="#3c3a3a" stroke-width="0.8"/>
<line x1="402" y1="480" x2="532" y2="480" stroke="#777" stroke-width="0.7"/>
<rect x="490" y="469.6" width="38" height="8.6" rx="0" fill="none" stroke="#3c3a3a" stroke-width="0.8"/>
<rect x="523.6" y="473.6" width="4.4" height="4.4" rx="0" fill="none" stroke="#231f20" stroke-width="1.2"/>
<path d="M411.5,483.7 L523,483.7 A6.6,6.6 0 0 1 529.6,490.3 L529.6,582 A6.8,6.8 0 0 1 522.8,588.8 L411.8,588.8 A6.8,6.8 0 0 1 405,582 L405,490.3 A6.6,6.6 0 0 1 411.5,483.7 Z" fill="none" stroke="#3c3a3a" stroke-width="0.9" />
<path d="M432.5,483.7 L432.5,546.5 A6.5,6.5 0 0 0 439,553 L494.5,553 A6.5,6.5 0 0 0 501,546.5 L501,483.7" fill="none" stroke="#3c3a3a" stroke-width="0.9" />
<path d="M405,563.5 A4.5,4.5 0 0 0 409.5,568 L445.5,568 A5.3,5.3 0 0 1 450.8,573.3 L450.8,581.5 A5.2,5.2 0 0 0 456,586.7 L478,586.7 A5.2,5.2 0 0 0 483.2,581.5 L483.2,573.3 A5.3,5.3 0 0 1 488.5,568 L525,568 A4.6,4.6 0 0 0 529.6,563.4" fill="none" stroke="#3c3a3a" stroke-width="0.9" />
<line x1="467.5" y1="442.5" x2="467.5" y2="455.3" stroke="#2a2627" stroke-width="0.8" stroke-dasharray="5 3"/>
<line x1="467.5" y1="455.3" x2="467.5" y2="593" stroke="#231f20" stroke-width="0.8" stroke-dasharray="5 3"/>
<line x1="526" y1="441" x2="526" y2="455.3" stroke="#2a2627" stroke-width="0.8"/>
<line x1="526" y1="455.3" x2="526" y2="475" stroke="#231f20" stroke-width="0.8"/>
<rect x="483" y="435.5" width="28.3" height="12.3" rx="0" fill="#fff" stroke="none"/>
<text x="496.9" y="446.9" font-size="14.8" fill="#231f20" text-anchor="middle" stroke="#231f20" stroke-width="0.25">245</text>
<line x1="483" y1="441.5" x2="474.65" y2="441.5" stroke="#2a2627" stroke-width="1"/>
<polygon points="468,441.5 477.5,438.6 476.83,441.5 477.5,444.4" fill="#2a2627" stroke="none"/>
<line x1="511.3" y1="441.5" x2="519.35" y2="441.5" stroke="#2a2627" stroke-width="1"/>
<polygon points="526,441.5 516.5,444.4 517.16,441.5 516.5,438.6" fill="#2a2627" stroke="none"/>
<line x1="567" y1="476.6" x2="567" y2="593" stroke="#2a2627" stroke-width="0.8"/>
<polygon points="567,476.8 569.9,486.3 567,485.63 564.1,486.3" fill="#2a2627" stroke="none"/>
<polygon points="567,593.3 564.1,583.8 567,584.46 569.9,583.8" fill="#2a2627" stroke="none"/>
<rect x="552.8" y="516.8" width="28.2" height="17.2" rx="0" fill="#fff" stroke="none"/>
<text x="566.7" y="530" font-size="14.8" fill="#231f20" text-anchor="middle" stroke="#231f20" stroke-width="0.25">490</text>
<path d="M556.24,466.39 L528.2,474.4 L549.78,458.12 A12.9,12.9 0 1 1 556.24,466.39 Z" fill="#fff" stroke="#fff" stroke-width="4.2" stroke-linejoin="miter"/>
<path d="M556.24,466.39 L528.2,474.4 L549.78,458.12 A12.9,12.9 0 1 1 556.24,466.39 Z" fill="none" stroke="#231f20" stroke-width="1.1" stroke-linejoin="miter"/>
<circle cx="562.2" cy="455" r="9" fill="#fff" stroke="none"/>
<circle cx="562.2" cy="455" r="7.8" fill="#fff" stroke="#231f20" stroke-width="1.3"/>
<polyline points="562.87,449.11 560.3,454.9 564,453.29 562.39,458.8" fill="none" stroke="#231f20" stroke-width="1.33" stroke-linejoin="miter"/>
<polygon points="562.11,461.08 560.97,457.47 563.72,458.23" fill="#231f20" stroke="none"/>
</g>
</svg>
</body></html>
